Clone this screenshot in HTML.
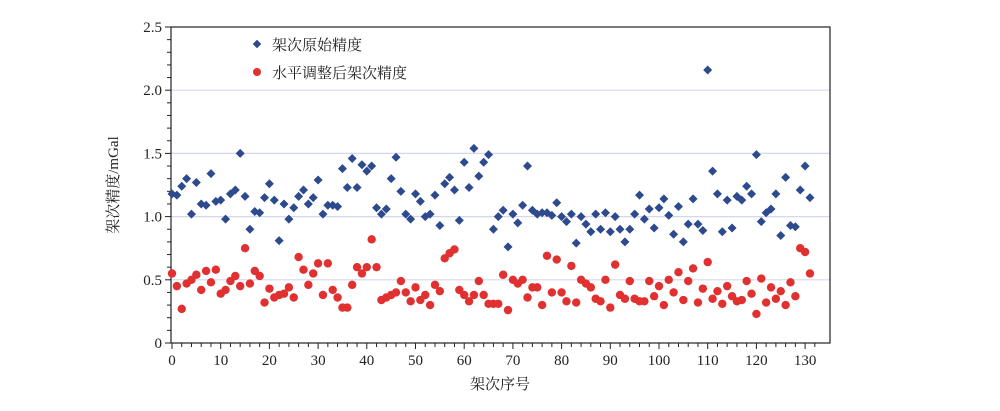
<!DOCTYPE html>
<html><head><meta charset="utf-8"><style>
html,body{margin:0;padding:0;background:#fff;}
svg{display:block;font-family:"Liberation Serif","Noto Serif CJK SC",serif;}
</style></head><body>
<svg id="chart" width="1000" height="411" viewBox="0 0 1000 411">
<g id="grid"></g>
<g id="axes"></g>
<g id="marks"></g>
<text x="118" y="185" transform="rotate(-90 118 185)" text-anchor="middle" font-size="15" fill="#222" font-family="'Liberation Serif','Noto Serif CJK SC',serif">架次精度/mGal</text>
<text x="500" y="389" text-anchor="middle" font-size="15" fill="#222" font-family="'Liberation Serif','Noto Serif CJK SC',serif">架次序号</text>
<g>
<g>
<rect x="254" y="41" width="6" height="6" transform="rotate(45 257 44)" fill="#2d4a8e"></rect>
<text x="272" y="50" font-size="15" fill="#222">架次原始精度</text></g>
<g>
<circle cx="257" cy="72" r="4" fill="#e03030"></circle>
<text x="272" y="78" font-size="15" fill="#222">水平调整后架次精度</text></g>
</g>
</svg>
<script>
const original=[1.18,1.17,1.24,1.30,1.02,1.27,1.10,1.09,1.34,1.12,1.13,0.98,1.18,1.21,1.50,1.16,0.90,1.04,1.03,1.15,1.26,1.13,0.81,1.10,0.98,1.07,1.16,1.21,1.10,1.15,1.29,1.02,1.09,1.09,1.08,1.38,1.23,1.46,1.23,1.41,1.36,1.40,1.07,1.02,1.06,1.30,1.47,1.20,1.02,0.98,1.18,1.12,1.00,1.02,1.17,0.93,1.26,1.31,1.21,0.97,1.43,1.23,1.54,1.32,1.43,1.49,0.90,1.00,1.05,0.76,1.02,0.95,1.09,1.40,1.05,1.02,1.03,1.03,1.01,1.11,1.00,0.96,1.02,0.79,1.00,0.94,0.88,1.02,0.90,1.03,0.88,1.00,0.90,0.80,0.90,1.02,1.17,0.98,1.06,0.91,1.07,1.14,1.01,0.86,1.08,0.80,0.94,1.14,0.94,0.89,2.16,1.36,1.18,0.88,1.13,0.91,1.16,1.13,1.24,1.18,1.49,0.96,1.03,1.06,1.18,0.85,1.31,0.93,0.92,1.21,1.40,1.15];
const adjusted=[0.55,0.45,0.27,0.47,0.50,0.54,0.42,0.57,0.48,0.58,0.39,0.42,0.49,0.53,0.45,0.75,0.47,0.57,0.53,0.32,0.43,0.36,0.38,0.39,0.44,0.36,0.68,0.58,0.46,0.55,0.63,0.38,0.63,0.42,0.36,0.28,0.28,0.46,0.60,0.55,0.60,0.82,0.60,0.34,0.36,0.38,0.40,0.49,0.40,0.33,0.44,0.34,0.38,0.30,0.46,0.41,0.67,0.71,0.74,0.42,0.38,0.33,0.38,0.49,0.38,0.31,0.31,0.31,0.54,0.26,0.50,0.47,0.50,0.36,0.44,0.44,0.30,0.69,0.40,0.66,0.40,0.33,0.61,0.32,0.50,0.47,0.44,0.35,0.33,0.50,0.28,0.62,0.38,0.35,0.49,0.35,0.33,0.33,0.49,0.37,0.45,0.30,0.50,0.40,0.56,0.34,0.49,0.59,0.32,0.43,0.64,0.35,0.41,0.31,0.45,0.37,0.33,0.34,0.49,0.39,0.23,0.51,0.32,0.44,0.35,0.41,0.30,0.48,0.37,0.75,0.72,0.55];
const xTicks=[0,10,20,30,40,50,60,70,80,90,100,110,120,130];
const yTicks=[0,0.5,1.0,1.5,2.0,2.5];
const yTickLabels=["0","0.5","1.0","1.5","2.0","2.5"];

const NS="http://www.w3.org/2000/svg";
const L=171,R=830,T=27,B=343;
const x=v=>172+v*4.87;
const y=v=>B-v*(B-T)/2.5;
function mk(tag,attrs,parent){const e=document.createElementNS(NS,tag);for(const k in attrs)e.setAttribute(k,attrs[k]);parent.appendChild(e);return e;}
const grid=document.getElementById('grid'),axes=document.getElementById('axes'),marks=document.getElementById('marks');
yTicks.forEach(t=>{if(t>0&&t<2.5){const g=mk('line',{x1:L,x2:R,y1:y(t),y2:y(t),stroke:'#d4d8ef','stroke-width':1.2},grid);

}});
const frame=mk('rect',{x:L,y:T,width:R-L,height:B-T,fill:'none',stroke:'#222','stroke-width':1.2},axes);


for(let i=0;i<=25;i++){const v=i/10;const major=i%5===0;
 const tk=mk('line',{x1:L-(major?6:4),x2:L,y1:y(v),y2:y(v),stroke:'#222','stroke-width':1},axes);
 
 }
yTicks.forEach((t,i)=>{const tx=mk('text',{x:L-9,y:y(t)+5,'text-anchor':'end','font-size':15,fill:'#222'},axes);tx.textContent=yTickLabels[i];
 
 });
for(let v=0;v<=132;v+=2){const major=v%10===0;
 const tk=mk('line',{x1:x(v),x2:x(v),y1:B,y2:B+(major?6:4),stroke:'#222','stroke-width':1},axes);
 
 }
xTicks.forEach(t=>{const tx=mk('text',{x:x(t),y:B+22,'text-anchor':'middle','font-size':15,fill:'#222'},axes);tx.textContent=String(t);
 
 });
adjusted.forEach((v,i)=>{const c=mk('circle',{cx:x(i),cy:y(v),r:4.2,fill:'#e03030'},marks);
 
 });
original.forEach((v,i)=>{const cx=x(i),cy=y(v),s=4.5;
 const p=mk('polygon',{points:`${cx},${cy-s} ${cx+s},${cy} ${cx},${cy+s} ${cx-s},${cy}`,fill:'#2d4a8e'},marks);
 
 });
</script>
</body></html>
